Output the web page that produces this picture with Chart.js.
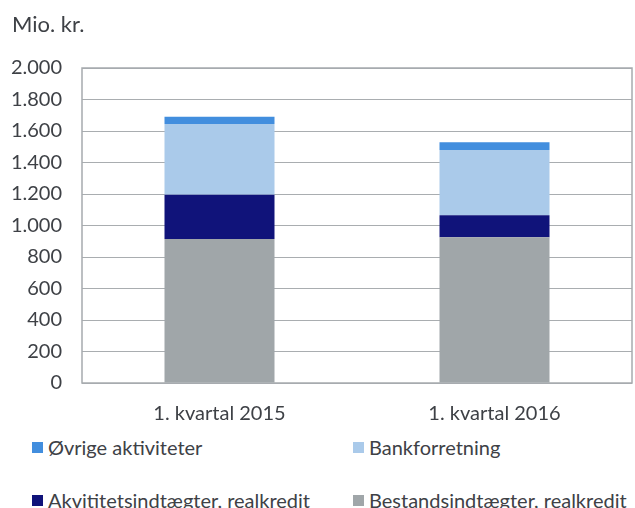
<!DOCTYPE html>
<html>
<head>
<meta charset="utf-8">
<script src="https://cdn.jsdelivr.net/npm/chart.js@4.4.1/dist/chart.umd.min.js"></script>
<style>
  body { margin: 0; background: #fff; font-family: Lato, sans-serif; color: #3e4146; }
  #wrap { position: relative; width: 635px; height: 508px; overflow: hidden; }
  #unit { position: absolute; left: 12px; top: 10px; font-size: 22px; line-height: 28px; }
  #chartBox { position: absolute; left: 0; top: 0; width: 635px; height: 420px; }
  .leg { position: absolute; font-size: 20px; white-space: nowrap; height: 22px; line-height: 22px; display: flex; align-items: center; }
  .leg i { display: inline-block; width: 11px; height: 11px; margin-right: 5px; }
</style>
</head>
<body>
<div id="wrap">
  <div id="chartBox"><canvas id="chart"></canvas></div>
  <div id="unit">Mio. kr.</div>
  <div id="legend"></div>
</div>
<script>
'use strict';

const categories = ['1. kvartal 2015', '1. kvartal 2016'];
const bestand = [915, 925];
const aktivitet = [281, 140];
const bank = [448, 414];
const oevrige = [47, 49];

const yMax = 2000;
const yStep = 200;

// stacking order bottom -> top
const series = [
  { label: 'Bestandsindtægter, realkredit', data: bestand, color: '#a0a6a9' },
  { label: 'Akvititetsindtægter, realkredit', data: aktivitet, color: '#10137a' },
  { label: 'Bankforretning', data: bank, color: '#aacaea' },
  { label: 'Øvrige aktiviteter', data: oevrige, color: '#428ede' },
];

// legend reads top -> bottom, two columns
const legendOrder = [3, 2, 1, 0];
const legendPos = [[32, 436], [353, 436], [32, 489], [353, 489]];

const TEXT = '#3e4146';

function fmt(v) {
  return String(v).replace(/\B(?=(\d{3})+(?!\d))/g, '.');
}

const frame = {
  id: 'frame',
  beforeDatasetsDraw(chart) {
    const { ctx, chartArea: a } = chart;
    ctx.save();
    ctx.strokeStyle = '#a7abae';
    ctx.lineWidth = 1.5;
    ctx.strokeRect(a.left, a.top, a.right - a.left, a.bottom - a.top);
    ctx.restore();
  },
};

document.addEventListener('DOMContentLoaded', () => {
  const legend = document.getElementById('legend');
  legendOrder.forEach((idx, i) => {
    const s = series[idx];
    const el = document.createElement('div');
    el.className = 'leg';
    el.style.left = legendPos[i][0] + 'px';
    el.style.top = legendPos[i][1] + 'px';
    el.innerHTML = `<i style="background:${s.color}"></i>${s.label}`;
    legend.appendChild(el);
  });

  new Chart(document.getElementById('chart'), {
    type: 'bar',
    data: {
      labels: categories,
      datasets: series.map(s => ({
        label: s.label,
        data: s.data,
        backgroundColor: s.color,
        borderWidth: 0,
        categoryPercentage: 1,
        barPercentage: 0.4,
      })),
    },
    options: {
      responsive: true,
      maintainAspectRatio: false,
      animation: false,
      layout: { padding: { top: 68, right: 3, left: 0, bottom: 0 } },
      plugins: { legend: { display: false }, tooltip: { enabled: false } },
      scales: {
        x: {
          stacked: true,
          grid: { display: false },
          border: { display: false },
          ticks: { color: TEXT, font: { family: 'Lato', size: 20 }, padding: 11 },
          afterFit: s => { s.height = 37; },
        },
        y: {
          stacked: true,
          min: 0,
          max: yMax,
          grid: { color: '#a9adb0', lineWidth: 1, drawTicks: false },
          border: { display: false },
          ticks: {
            stepSize: yStep,
            color: TEXT,
            font: { family: 'Lato', size: 20 },
            padding: 20,
            callback: v => fmt(v),
          },
          afterFit: s => { s.width = 82; },
        },
      },
    },
    plugins: [frame],
  });
});
</script>
</body>
</html>
